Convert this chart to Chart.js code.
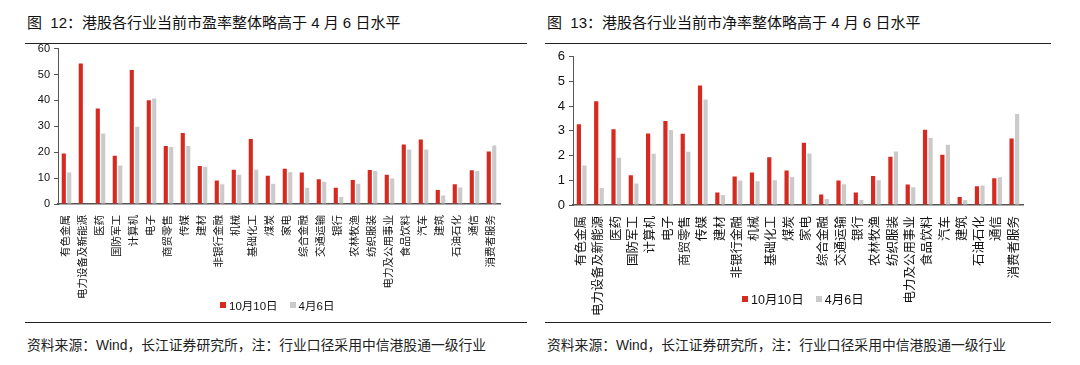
<!DOCTYPE html>
<html>
<head>
<meta charset="utf-8">
<script src="https://cdn.jsdelivr.net/npm/chart.js"></script>
<style>
  body { margin: 0; width: 1080px; height: 365px; background: #fff; position: relative; overflow: hidden;
         font-family: "Liberation Sans", Arial, "Noto Sans CJK SC", sans-serif; }
  .title { position: absolute; top: 11px; font-size: 15px; color: #111; white-space: nowrap; }
  .rule { position: absolute; height: 1px; background: #222; }
  .src { position: absolute; top: 334px; font-size: 13.8px; color: #222; white-space: nowrap; }
  .box { position: absolute; }
  .legend { position: absolute; display: flex; align-items: center; white-space: nowrap; color: #111; }
  .legend i { display: inline-block; width: 6px; height: 6px; margin-right: 3px; }
  .legend span { margin-right: 12px; }
</style>
</head>
<body>
<div class="title" style="left:27px">图&nbsp;&nbsp;12：港股各行业当前市盈率整体略高于 4 月 6 日水平</div>
<div class="title" style="left:547px">图&nbsp;&nbsp;13：港股各行业当前市净率整体略高于 4 月 6 日水平</div>
<div class="rule" style="left:25px;width:502px;top:43px"></div>
<div class="rule" style="left:545px;width:506px;top:43px"></div>
<div class="box" style="left:0;top:38px;width:540px;height:266px"><canvas id="peChart"></canvas></div>
<div class="box" style="left:540px;top:45px;width:540px;height:275px"><canvas id="pbChart"></canvas></div>
<div class="legend" id="peLegend" style="left:220px;top:297px;font-size:11.5px"></div>
<div class="legend" id="pbLegend" style="left:742px;top:289px;font-size:12.5px"></div>
<div class="rule" style="left:25px;width:502px;top:322px"></div>
<div class="rule" style="left:545px;width:506px;top:322px"></div>
<div class="src" style="left:27px">资料来源：Wind，长江证券研究所，注：行业口径采用中信港股通一级行业</div>
<div class="src" style="left:547px">资料来源：Wind，长江证券研究所，注：行业口径采用中信港股通一级行业</div>
<script>
// 行业分类
const industries = ['有色金属', '电力设备及新能源', '医药', '国防军工', '计算机', '电子', '商贸零售', '传媒', '建材',
    '非银行金融', '机械', '基础化工', '煤炭', '家电', '综合金融', '交通运输', '银行', '农林牧渔', '纺织服装',
    '电力及公用事业', '食品饮料', '汽车', '建筑', '石油石化', '通信', '消费者服务'];

const seriesNames = ['10月10日', '4月6日'];

// 市盈率 PE
const peOct10 = [19.5, 54.2, 36.9, 18.6, 51.7, 40.1, 22.4, 27.4, 14.7, 9.1, 13.2, 25.1, 10.9,
    13.6, 12.2, 9.6, 6.3, 9.3, 13.1, 11.3, 23.0, 24.9, 5.4, 7.6, 13.0, 20.3];
const peApr6 = [12.2, 0, 27.2, 14.9, 29.8, 40.7, 22.0, 22.4, 14.4, 7.6, 11.3, 13.2, 7.8,
    12.3, 6.3, 8.6, 2.7, 7.8, 12.7, 9.8, 21.0, 21.0, 3.3, 6.4, 12.7, 22.6];

// 市净率 PB
const pbOct10 = [3.27, 4.2, 3.07, 1.2, 2.89, 3.4, 2.88, 4.84, 0.51, 1.15, 1.32, 1.93, 1.4,
    2.52, 0.43, 0.99, 0.51, 1.17, 1.95, 0.83, 3.05, 2.03, 0.32, 0.76, 1.08, 2.69];
const pbApr6 = [1.6, 0.69, 1.91, 0.87, 2.07, 3.04, 2.16, 4.27, 0.4, 0.99, 0.96, 1.0, 1.13,
    2.09, 0.24, 0.84, 0.2, 1.0, 2.17, 0.72, 2.71, 2.44, 0.2, 0.79, 1.12, 3.68];

const RED = '#d62a20';
const GRAY = '#cacaca';
const AXIS = '#555';
const FONT = '"Liberation Sans", Arial, "Noto Sans CJK SC", sans-serif';

// HTML图例
function buildLegend(id) {
    const el = document.getElementById(id);
    [RED, GRAY].forEach((c, i) => {
        const box = document.createElement('i');
        box.style.background = c;
        const txt = document.createElement('span');
        txt.textContent = seriesNames[i];
        el.appendChild(box);
        el.appendChild(txt);
    });
}

function makeChart(id, a, b, cfg) {
    const ctx = document.getElementById(id).getContext('2d');
    return new Chart(ctx, {
        type: 'bar',
        data: {
            labels: industries,
            datasets: [
                { label: seriesNames[0], data: a, backgroundColor: RED, categoryPercentage: 0.64, barPercentage: 0.76 },
                { label: seriesNames[1], data: b, backgroundColor: GRAY, categoryPercentage: 0.64, barPercentage: 0.76 }
            ]
        },
        options: {
            responsive: true,
            maintainAspectRatio: false,
            animation: false,
            layout: { padding: { left: 0, right: cfg.padRight, top: 0, bottom: 0 } },
            plugins: {
                legend: { display: false },
                tooltip: { enabled: false }
            },
            scales: {
                x: {
                    afterFit: s => { s.height = cfg.xHeight; },
                    grid: { display: false, drawOnChartArea: false },
                    border: { color: AXIS, width: 1.5 },
                    ticks: {
                        autoSkip: false, minRotation: 90, maxRotation: 90, padding: 3,
                        color: '#111',
                        font: { family: FONT, size: cfg.labelSize }
                    }
                },
                y: {
                    min: 0, max: cfg.max,
                    afterFit: s => { s.width = cfg.yWidth; },
                    grid: { drawOnChartArea: false, tickLength: 4, color: AXIS },
                    border: { color: AXIS, width: 1 },
                    ticks: {
                        stepSize: cfg.step, padding: 4,
                        color: '#111',
                        font: { family: FONT, size: cfg.tickSize }
                    }
                }
            }
        }
    });
}

buildLegend('peLegend');
buildLegend('pbLegend');

makeChart('peChart', peOct10, peApr6, {
    max: 60, step: 10, yWidth: 58, padRight: 40, xHeight: 100, labelSize: 10.5, tickSize: 11
});
makeChart('pbChart', pbOct10, pbApr6, {
    max: 6, step: 1, yWidth: 33, padRight: 57, xHeight: 115, labelSize: 12.5, tickSize: 13
});
</script>
</body>
</html>
